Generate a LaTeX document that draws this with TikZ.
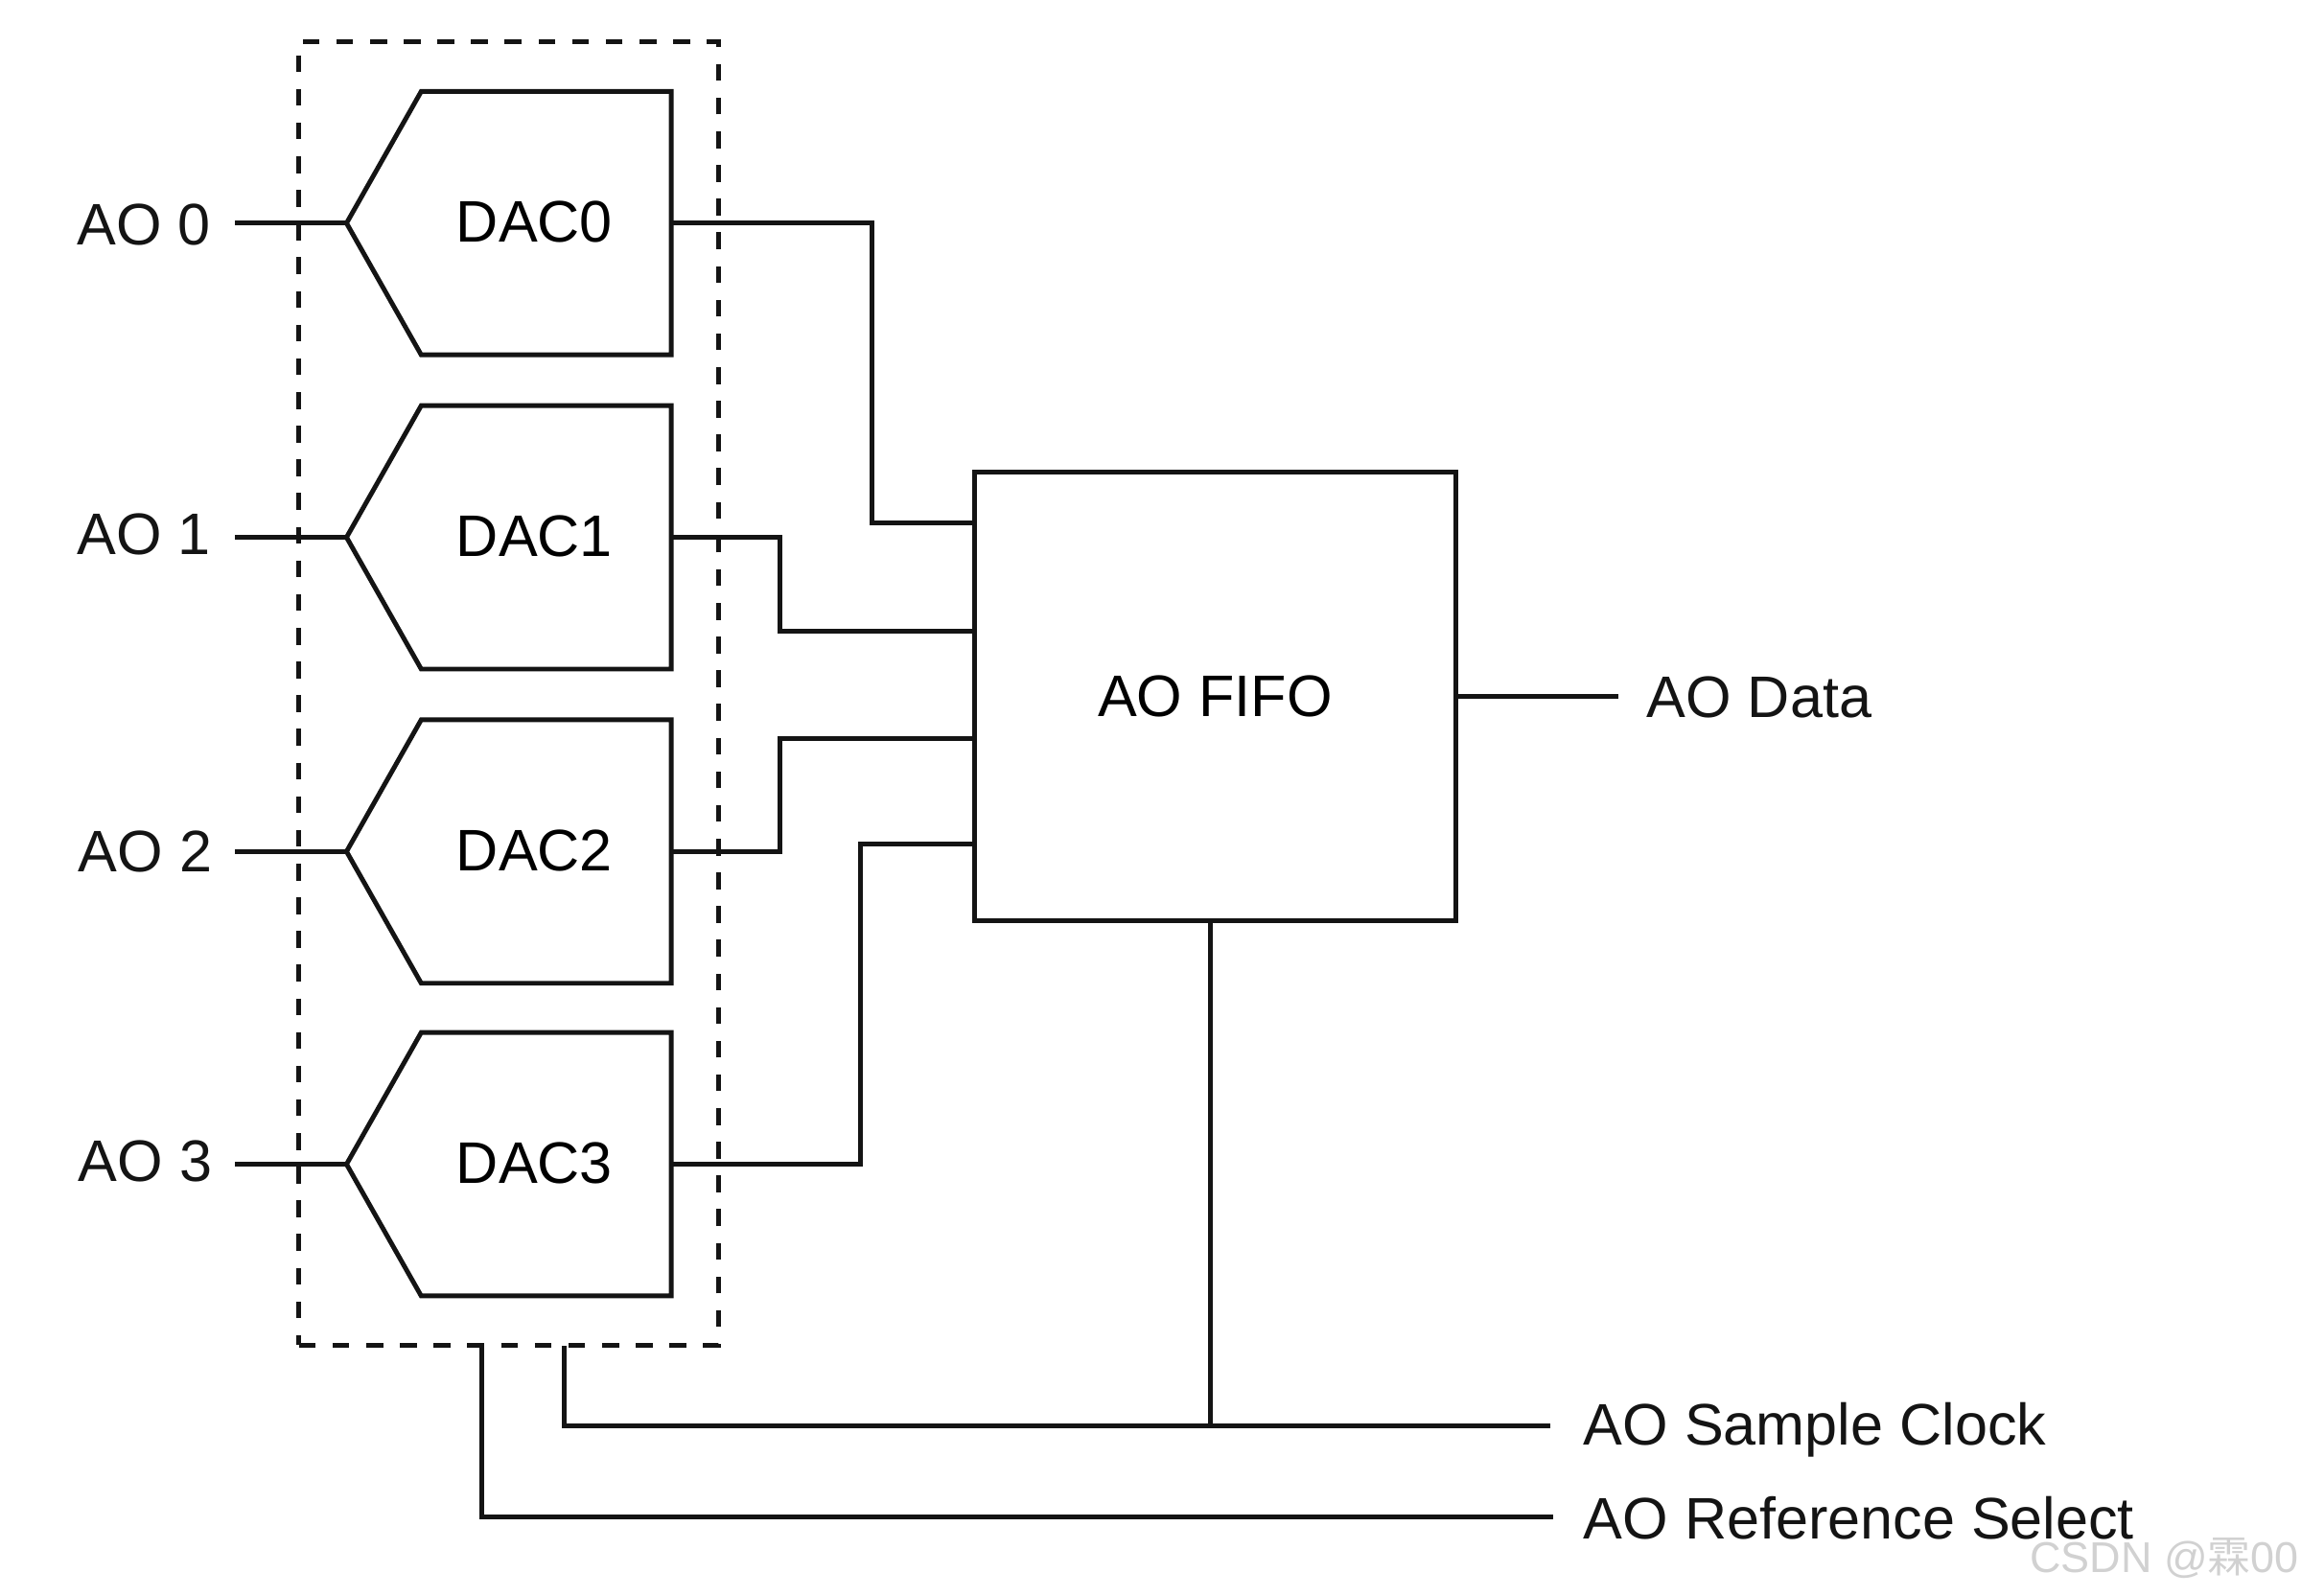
\documentclass[tikz,border=0pt]{standalone}
\usepackage{fontspec}
\setmainfont{Liberation Sans}
\newfontfamily\cjkfont{Noto Sans CJK SC}
\usetikzlibrary{shapes.symbols}
\newcommand{\daclabel}[1]{\raisebox{0.7pt}{#1}\kern 7pt}
\tikzset{
  x=0.015316cm, y=-0.015316cm,
  wire/.style={draw=black!92, line width=1.4pt, line join=miter},
  dacbox/.style={shape=signal, signal from=nowhere, signal to=west, signal pointer angle=120.9,
    draw=black!92, line width=1.4pt, minimum width=96.4pt, minimum height=78.2pt, inner sep=0pt, outer sep=0pt,
    font=\fontsize{17.4}{20}\selectfont},
  fifobox/.style={draw=black!92, line width=1.4pt, minimum width=142.9pt, minimum height=133.3pt, inner sep=0pt, outer sep=0pt,
    font=\fontsize{17.4}{20}\selectfont},
  groupbox/.style={draw=black!92, line width=1.4pt, dash pattern=on 5pt off 5pt, minimum width=124.6pt, minimum height=386.9pt, inner sep=0pt, outer sep=0pt},
  lab/.style={anchor=base west, inner sep=0pt, font=\fontsize{17.4}{20}\selectfont, text=black!92},
  wmark/.style={anchor=base west, inner sep=0pt, font=\fontsize{12.8}{15}\selectfont, text=black!18}
}
\begin{document}
\begin{tikzpicture}
\useasboundingbox (0,0) rectangle (1567,1086.5);
\node[groupbox] (group) at (346.5,472.5) {};
\node[dacbox] (dac0) at (372,152) {\daclabel{DAC0}};
\node[dacbox] (dac1) at (372,366) {\daclabel{DAC1}};
\node[dacbox] (dac2) at (372,580) {\daclabel{DAC2}};
\node[dacbox] (dac3) at (372,793) {\daclabel{DAC3}};
\node[fifobox] (fifo) at (827.5,474.5) {AO FIFO};
\node[lab] (ao0) at (52,167) {AO 0};
\node[lab] (ao1) at (52,378) {AO 1};
\node[lab] (ao2) at (53,594) {AO 2};
\node[lab] (ao3) at (53,805) {AO 3};
\node[lab] (data) at (1121,489) {AO Data};
\node[lab] (clk) at (1078,984) {AO Sample Clock};
\node[lab] (ref) at (1078,1048) {AO Reference Select};
\node[wmark] (wm) at (1382,1071) {CSDN @{\cjkfont 霖}00};
\coordinate (in0) at (160,152);
\coordinate (in1) at (160,366);
\coordinate (in2) at (160,580);
\coordinate (in3) at (160,793);
\coordinate (p0) at (663,356);
\coordinate (p1) at (663,430);
\coordinate (p2) at (663,503);
\coordinate (p3) at (663,575);
\coordinate (dataend) at (1102,474.5);
\coordinate (g1) at (384,917);
\coordinate (g2) at (328,917);
\coordinate (clkend) at (1056,971);
\coordinate (refend) at (1058,1033);
\foreach \i in {0,1,2,3} \draw[wire] (in\i) -- (dac\i.west);
\draw[wire] (dac0.east) -- (594,152) -- (594,356) -- (p0);
\draw[wire] (dac1.east) -- (531,366) -- (531,430) -- (p1);
\draw[wire] (dac2.east) -- (531,580) -- (531,503) -- (p2);
\draw[wire] (dac3.east) -- (586,793) -- (586,575) -- (p3);
\draw[wire] (fifo.east) -- (dataend);
\draw[wire] (824.5,628) -- (824.5,971);
\draw[wire] (g1) -- (384,971) -- (clkend);
\draw[wire] (g2) -- (328,1033) -- (refend);
\end{tikzpicture}
\end{document}
